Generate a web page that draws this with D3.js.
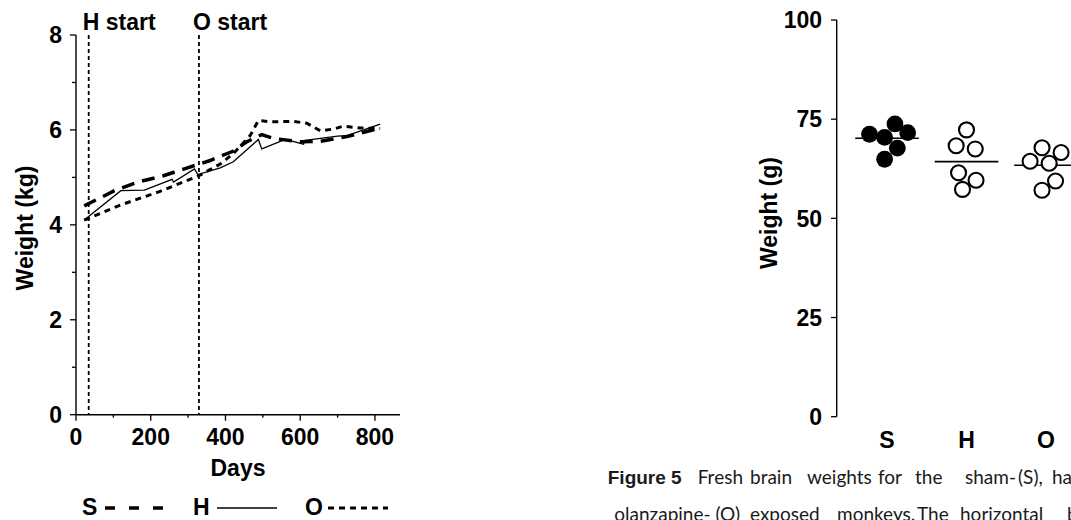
<!DOCTYPE html>
<html>
<head>
<meta charset="utf-8">
<script src="https://cdn.jsdelivr.net/npm/d3@7"></script>
<style>
  html,body{margin:0;padding:0;background:#fff;}
  svg{display:block;}
</style>
</head>
<body>
<svg id="chart" width="1071" height="520"></svg>
<script>
// ---------- Data (left panel: body weight over time) ----------
const dayTicks = [0, 200, 400, 600, 800];
const kgTicks = [0, 2, 4, 6, 8];
const markers = [{label: "H start", day: 34}, {label: "O start", day: 329}];
const seriesS = [[22,4.40],[103,4.72],[165,4.90],[232,5.03],[290,5.18],[357,5.35],[420,5.55],[457,5.75],[497,5.90],[529,5.82],[600,5.75],[654,5.76],[725,5.86],[814,6.04]];
const seriesH = [[22,4.10],[120,4.72],[183,4.73],[257,4.96],[261,4.90],[317,5.18],[326,5.06],[386,5.20],[421,5.33],[488,5.80],[497,5.60],[560,5.80],[609,5.70],[613,5.78],[700,5.87],[725,5.88],[814,6.12]];
const seriesO = [[22,4.10],[120,4.42],[223,4.70],[330,5.04],[386,5.28],[421,5.50],[466,5.88],[488,6.20],[520,6.17],[580,6.18],[618,6.14],[654,5.98],[690,6.02],[716,6.08],[761,6.04],[814,6.03]];

// ---------- Data (right panel: brain weights) ----------
const groups = ["S", "H", "O"];
const brainS = [71.2, 70.4, 73.8, 71.6, 67.7, 64.9];
const brainH = [72.3, 68.3, 67.5, 61.5, 59.6, 57.3];
const brainO = [64.4, 67.8, 66.6, 63.9, 59.4, 57.1];
const jitterS = [-0.22, -0.03, 0.10, 0.26, 0.13, -0.03];
const jitterH = [0.00, -0.13, 0.11, -0.10, 0.12, -0.05];
const jitterO = [-0.20, -0.05, 0.19, 0.04, 0.12, -0.05];
const groupMeans = [70.2, 64.3, 63.4];
const gTicks = [0, 25, 50, 75, 100];

const svg = d3.select("#chart");
const BOLD = "'Liberation Sans', Arial, sans-serif";

// ================= LEFT PANEL =================
const x = d3.scaleLinear().domain([0, 867]).range([76, 400]);
const y = d3.scaleLinear().domain([0, 8]).range([414.7, 35]);

const L = svg.append("g");

L.append("line").attr("x1", x(0)).attr("x2", x(867)).attr("y1", y(0)).attr("y2", y(0))
  .attr("stroke", "#000").attr("stroke-width", 1.4);
L.append("line").attr("x1", x(0)).attr("x2", x(0)).attr("y1", y(0)).attr("y2", y(8))
  .attr("stroke", "#000").attr("stroke-width", 1.4);

d3.range(0, 9).forEach(v => {
  const major = v % 2 === 0;
  L.append("line").attr("x1", x(0) - (major ? 6 : 4)).attr("x2", x(0))
    .attr("y1", y(v)).attr("y2", y(v)).attr("stroke", "#000").attr("stroke-width", 1.3);
});
kgTicks.forEach(v => {
  L.append("text").attr("x", 62).attr("y", y(v)).attr("dy", "0.36em")
    .attr("text-anchor", "end").attr("font-family", BOLD).attr("font-weight", "bold")
    .attr("font-size", 23).text(v);
});
d3.range(0, 900, 100).forEach(v => {
  const major = v % 200 === 0;
  L.append("line").attr("x1", x(v)).attr("x2", x(v))
    .attr("y1", y(0)).attr("y2", y(0) + (major ? 6 : 3)).attr("stroke", "#000").attr("stroke-width", 1.3);
});
dayTicks.forEach(v => {
  L.append("text").attr("x", x(v)).attr("y", 445)
    .attr("text-anchor", "middle").attr("font-family", BOLD).attr("font-weight", "bold")
    .attr("font-size", 23).text(v);
});
L.append("text").attr("x", 238).attr("y", 476).attr("text-anchor", "middle")
  .attr("font-family", BOLD).attr("font-weight", "bold").attr("font-size", 23).text("Days");
L.append("text").attr("transform", "translate(33,228) rotate(-90)").attr("text-anchor", "middle")
  .attr("font-family", BOLD).attr("font-weight", "bold").attr("font-size", 23).text("Weight (kg)");

markers.forEach(m => {
  L.append("line").attr("x1", x(m.day)).attr("x2", x(m.day)).attr("y1", y(8)).attr("y2", y(0))
    .attr("stroke", "#000").attr("stroke-width", 1.8).attr("stroke-dasharray", "4,3");
  L.append("text").attr("x", x(m.day) - 6).attr("y", 30)
    .attr("font-family", BOLD).attr("font-weight", "bold").attr("font-size", 23).text(m.label);
});

const line = d3.line().x(d => x(d[0])).y(d => y(d[1]));
L.append("path").datum(seriesH).attr("d", line).attr("fill", "none")
  .attr("stroke", "#000").attr("stroke-width", 1.3);
L.append("path").datum(seriesS).attr("d", line).attr("fill", "none")
  .attr("stroke", "#000").attr("stroke-width", 3.5).attr("stroke-dasharray", "13,8");
L.append("path").datum(seriesO).attr("d", line).attr("fill", "none")
  .attr("stroke", "#000").attr("stroke-width", 3).attr("stroke-dasharray", "6,5");

// legend
const legY = 515, legLineY = 508;
[
  {t: "S", x: 82, lx1: 105, lx2: 167, w: 3.5, dash: "10,14"},
  {t: "H", x: 193, lx1: 217, lx2: 277, w: 1.3, dash: null},
  {t: "O", x: 305, lx1: 328, lx2: 388, w: 3, dash: "6,5"}
].forEach(e => {
  L.append("text").attr("x", e.x).attr("y", legY).attr("font-family", BOLD)
    .attr("font-weight", "bold").attr("font-size", 23).text(e.t);
  const ln = L.append("line").attr("x1", e.lx1).attr("x2", e.lx2).attr("y1", legLineY).attr("y2", legLineY)
    .attr("stroke", "#000").attr("stroke-width", e.w);
  if (e.dash) ln.attr("stroke-dasharray", e.dash);
});

// ================= RIGHT PANEL =================
const gx = d3.scalePoint().domain(groups).range([887, 1046]);
const gy = d3.scaleLinear().domain([0, 100]).range([416.7, 20]);
const step = gx.step();
const R = svg.append("g");

R.append("line").attr("x1", 836.7).attr("x2", 836.7).attr("y1", gy(0)).attr("y2", gy(100))
  .attr("stroke", "#000").attr("stroke-width", 1.4);
gTicks.forEach(v => {
  R.append("line").attr("x1", 831).attr("x2", 836.7).attr("y1", gy(v)).attr("y2", gy(v))
    .attr("stroke", "#000").attr("stroke-width", 1.3);
  R.append("text").attr("x", 822).attr("y", gy(v)).attr("dy", "0.36em").attr("text-anchor", "end")
    .attr("font-family", BOLD).attr("font-weight", "bold").attr("font-size", 23).text(v);
});
groups.forEach(g => {
  R.append("text").attr("x", gx(g)).attr("y", 448).attr("text-anchor", "middle")
    .attr("font-family", BOLD).attr("font-weight", "bold").attr("font-size", 23).text(g);
});
R.append("text").attr("transform", "translate(777,213) rotate(-90)").attr("text-anchor", "middle")
  .attr("font-family", BOLD).attr("font-weight", "bold").attr("font-size", 23).text("Weight (g)");

groups.forEach((g, i) => {
  R.append("line").attr("x1", gx(g) - 0.4 * step).attr("x2", gx(g) + 0.4 * step)
    .attr("y1", gy(groupMeans[i])).attr("y2", gy(groupMeans[i]))
    .attr("stroke", "#000").attr("stroke-width", 1.6);
});
const dots = [
  {g: "S", vals: brainS, jit: jitterS, filled: true},
  {g: "H", vals: brainH, jit: jitterH, filled: false},
  {g: "O", vals: brainO, jit: jitterO, filled: false}
];
dots.forEach(d => {
  R.selectAll(null).data(d.vals).enter().append("circle")
    .attr("cx", (v, i) => gx(d.g) + d.jit[i] * step)
    .attr("cy", v => gy(v))
    .attr("r", d.filled ? 8.4 : 7.5)
    .attr("fill", d.filled ? "#000" : "#fff")
    .attr("stroke", "#000").attr("stroke-width", d.filled ? 0 : 2.1);
});

// ---------- caption ----------
const CAP = "Lato, 'Open Sans', sans-serif";
const cap = svg.append("g").attr("font-family", CAP).attr("font-size", 19).attr("fill", "#1a1a1a");
const line1 = [["brain", 750], ["weights", 807], ["for", 878], ["the", 915], ["sham-", 965], ["(S),", 1018], ["ha", 1052]];
const line2 = [["exposed", 750], ["monkeys.", 837], ["The", 917], ["horizontal", 960], ["b", 1067]];
const b1 = 484, b2 = 521;
const fresh = cap.append("text").attr("x", 743).attr("y", b1).attr("text-anchor", "end").text("Fresh");
const fw = fresh.node().getComputedTextLength();
cap.append("text").attr("x", 743 - fw - 16).attr("y", b1).attr("text-anchor", "end")
  .attr("font-family", BOLD).attr("font-weight", "bold").attr("font-size", 19).text("Figure 5");
line1.forEach(w => cap.append("text").attr("x", w[1]).attr("y", b1).text(w[0]));
cap.append("text").attr("x", 740).attr("y", b2).attr("text-anchor", "end").text("olanzapine- (O)");
line2.forEach(w => cap.append("text").attr("x", w[1]).attr("y", b2).text(w[0]));
</script>
</body>
</html>
